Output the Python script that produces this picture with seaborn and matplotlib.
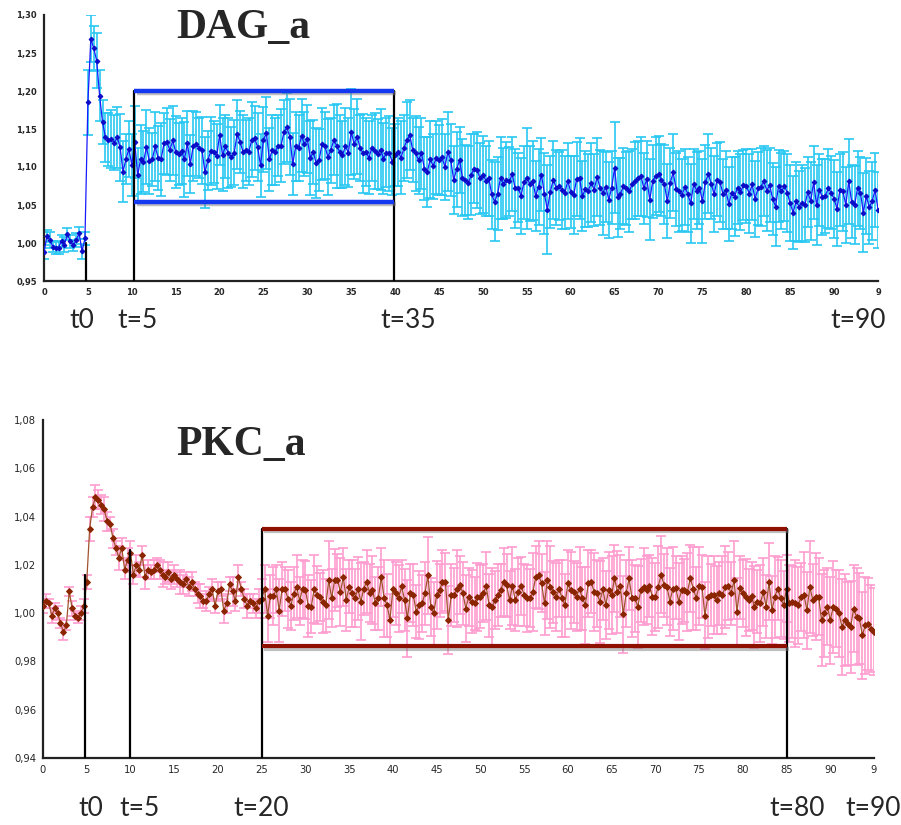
import numpy as np
import matplotlib
matplotlib.use("Agg")
import matplotlib.pyplot as plt
import matplotlib.patheffects as pe
from matplotlib.ticker import FuncFormatter
import seaborn as sns

# sampling: 3 frames per time unit, 0 .. 95
FRAMES_PER_UNIT = 3

# DAG_a mean ratio, one row per 5 time units
DAG_MEAN = [
    0.988, 1.009, 1.004, 0.995, 0.993, 0.994, 1.003, 0.998, 1.012, 1.002, 0.997, 1.004, 1.013, 0.989, 1.006,
    1.185, 1.269, 1.256, 1.240, 1.194, 1.159, 1.139, 1.136, 1.137, 1.132, 1.139, 1.126, 1.094, 1.110, 1.124,
    1.103, 1.133, 1.089, 1.110, 1.107, 1.126, 1.108, 1.110, 1.127, 1.112, 1.110, 1.131, 1.133, 1.122, 1.135,
    1.120, 1.117, 1.121, 1.110, 1.131, 1.104, 1.128, 1.130, 1.125, 1.122, 1.093, 1.109, 1.121, 1.120, 1.114,
    1.142, 1.116, 1.127, 1.118, 1.113, 1.119, 1.143, 1.133, 1.120, 1.122, 1.120, 1.136, 1.138, 1.126, 1.102,
    1.136, 1.145, 1.110, 1.122, 1.120, 1.128, 1.128, 1.146, 1.152, 1.140, 1.104, 1.127, 1.125, 1.141, 1.130,
    1.137, 1.112, 1.120, 1.105, 1.109, 1.130, 1.128, 1.113, 1.122, 1.135, 1.128, 1.120, 1.116, 1.127, 1.119,
    1.146, 1.130, 1.140, 1.125, 1.118, 1.120, 1.112, 1.125, 1.121, 1.117, 1.123, 1.111, 1.119, 1.118, 1.107,
    1.116, 1.120, 1.112, 1.125, 1.135, 1.142, 1.122, 1.118, 1.109, 1.118, 1.098, 1.094, 1.110, 1.101, 1.112,
    1.109, 1.113, 1.100, 1.120, 1.109, 1.083, 1.097, 1.109, 1.086, 1.083, 1.079, 1.090, 1.098, 1.096, 1.085,
    1.090, 1.082, 1.085, 1.064, 1.054, 1.065, 1.085, 1.078, 1.083, 1.081, 1.091, 1.072, 1.073, 1.062, 1.080,
    1.085, 1.078, 1.082, 1.062, 1.074, 1.090, 1.065, 1.044, 1.067, 1.083, 1.073, 1.075, 1.070, 1.066, 1.082,
    1.067, 1.063, 1.084, 1.085, 1.062, 1.071, 1.069, 1.079, 1.070, 1.087, 1.073, 1.066, 1.074, 1.057, 1.073,
    1.099, 1.060, 1.065, 1.075, 1.072, 1.068, 1.078, 1.082, 1.085, 1.088, 1.072, 1.084, 1.057, 1.081, 1.088,
    1.091, 1.083, 1.077, 1.055, 1.079, 1.093, 1.071, 1.068, 1.063, 1.074, 1.064, 1.052, 1.078, 1.069, 1.073,
    1.055, 1.080, 1.091, 1.078, 1.064, 1.083, 1.080, 1.065, 1.070, 1.051, 1.066, 1.061, 1.073, 1.067, 1.076,
    1.075, 1.065, 1.077, 1.058, 1.072, 1.074, 1.081, 1.069, 1.076, 1.058, 1.048, 1.075, 1.068, 1.075, 1.066,
    1.052, 1.040, 1.055, 1.048, 1.053, 1.050, 1.067, 1.055, 1.080, 1.050, 1.070, 1.060, 1.062, 1.072, 1.066,
    1.058, 1.045, 1.070, 1.068, 1.050, 1.081, 1.054, 1.050, 1.072, 1.066, 1.040, 1.062, 1.047, 1.055, 1.070,
    1.044,
]

DAG_ERR = [
    .009, .008, .010, .007, .008, .009, .008, .010, .008, .009, .007, .009, .008, .010, .009,
    .043, .031, .030, .036, .034, .029, .032, .035, .038, .036, .040, .044, .040, .033, .037,
    .041, .047, .036, .045, .040, .049, .043, .035, .046, .042, .048, .040, .044, .041, .045,
    .047, .041, .044, .049, .043, .038, .046, .042, .040, .044, .047, .039, .045, .041, .043,
    .040, .048, .042, .046, .039, .043, .045, .041, .048, .040, .044, .049, .042, .045, .041,
    .043, .047, .041, .046, .044, .040, .048, .042, .045, .050, .041, .046, .043, .048, .042,
    .045, .049, .042, .046, .041, .047, .044, .050, .043, .046, .055, .048, .044, .051, .045,
    .057, .046, .049, .044, .052, .045, .048, .043, .050, .046, .053, .047, .045, .049, .044,
    .041, .045, .048, .043, .050, .046, .042, .049, .044, .047, .041, .046, .051, .043, .048,
    .046, .050, .044, .052, .047, .045, .049, .043, .051, .046, .048, .053, .045, .050, .047,
    .051, .046, .049, .045, .052, .048, .054, .047, .050, .045, .049, .052, .046, .050, .048,
    .066, .049, .052, .046, .050, .048, .053, .058, .047, .051, .049, .045, .052, .048, .050,
    .047, .051, .049, .053, .046, .050, .048, .052, .047, .051, .049, .055, .046, .050, .048,
    .060, .052, .047, .050, .048, .053, .046, .051, .049, .052, .047, .050, .053, .048, .051,
    .050, .047, .052, .049, .046, .051, .048, .053, .047, .050, .049, .052, .046, .051, .048,
    .055, .049, .052, .047, .050, .048, .053, .046, .051, .049, .047, .052, .048, .050, .046,
    .049, .052, .047, .050, .048, .051, .046, .053, .049, .047, .052, .048, .050, .046, .051,
    .050, .048, .052, .047, .050, .049, .046, .051, .048, .053, .047, .050, .049, .052, .048,
    .051, .049, .047, .052, .050, .056, .048, .051, .049, .047, .052, .050, .048, .051, .049,
    .050,
]

# PKC_a mean ratio, one row per 5 time units
PKC_MEAN = [
    1.003, 1.005, 1.004, 0.999, 1.002, 1.000, 0.996, 0.992, 0.995, 1.009, 1.002, 0.999, 0.998, 1.000, 1.003,
    1.013, 1.035, 1.044, 1.048, 1.047, 1.045, 1.043, 1.038, 1.037, 1.031, 1.027, 1.023, 1.027, 1.018, 1.022,
    1.025, 1.016, 1.020, 1.018, 1.024, 1.015, 1.018, 1.017, 1.018, 1.020, 1.018, 1.016, 1.015, 1.017, 1.014,
    1.016, 1.014, 1.013, 1.012, 1.014, 1.011, 1.013, 1.010, 1.008, 1.007, 1.005, 1.005, 1.008, 1.010, 1.003,
    1.009, 1.010, 1.001, 1.004, 1.012, 1.009, 1.005, 1.015, 1.010, 1.006, 1.003, 1.005, 1.004, 1.002, 1.005,
    1.006, 1.010, 0.999, 1.007, 1.007, 1.010, 1.001, 1.010, 1.010, 1.006, 1.003, 1.008, 1.011, 1.005, 1.010,
    1.0095, 1.003, 1.0026, 1.010, 1.0075, 1.0068, 1.0047, 1.0033, 1.0137, 1.0061, 1.0137, 1.0137, 1.0088, 1.015, 1.0054,
    1.011, 1.0082, 1.0061, 1.0102, 1.0047, 1.0102, 1.013, 1.0082, 1.0095, 1.004, 1.0061, 1.015, 1.0061, 1.0033, 0.9971,
    1.0102, 1.0082, 1.0061, 1.0112, 1.0054, 0.9978, 1.0082, 1.0075, 1.0006, 1.0033, 1.004, 1.0082, 1.0157, 1.0026, 0.9999,
    1.0075, 1.0095, 1.013, 1.013, 0.9971, 1.0075, 1.0075, 1.0102, 1.0116, 1.0082, 1.0019, 1.0068, 1.0047, 1.004, 1.0068,
    1.0068, 1.0082, 1.0112, 1.0033, 1.0026, 1.0054, 1.0075, 1.0095, 1.013, 1.0116, 1.0054, 1.0112, 1.0054, 1.0088, 1.0112,
    1.0075, 1.0061, 1.0061, 1.0088, 1.015, 1.0157, 1.0123, 1.004, 1.0137, 1.011, 1.0088, 1.0068, 1.0102, 1.0061, 1.0033,
    1.0123, 1.0095, 1.0088, 1.0068, 1.0102, 1.0061, 1.0033, 1.0123, 1.013, 1.0088, 1.0082, 1.0047, 1.010, 1.0033, 1.0095,
    1.0075, 1.0144, 1.0088, 1.0112, 0.9995, 1.0082, 1.0144, 1.0061, 1.0061, 1.0026, 1.0095, 1.011, 1.0095, 1.0112, 1.0068,
    1.0068, 1.011, 1.016, 1.0116, 1.011, 1.0047, 1.0102, 1.0106, 1.0047, 1.0095, 1.0095, 1.0088, 1.0144, 1.0102, 1.0061,
    1.0112, 1.011, 0.999, 1.0068, 1.0075, 1.0075, 1.0054, 1.0082, 1.0075, 1.011, 1.0112, 1.0082, 1.0137, 1.0006, 1.0105,
    1.0082, 1.0065, 1.0054, 1.0071, 1.0026, 1.0047, 1.004, 1.0088, 1.0026, 1.013, 1.0012, 1.0068, 1.0102, 1.0061, 1.0033,
    1.0102, 1.004, 1.0047, 1.004, 1.0033, 1.0068, 1.0075, 1.0012, 1.0109, 1.0054, 1.0068, 1.0068, 0.9971, 0.9999, 1.0026,
    0.9971, 1.0026, 1.0019, 0.9999, 0.9943, 0.9971, 0.9957, 0.9943, 1.0019, 0.9985, 0.9978, 0.9909, 0.9950, 0.9955, 0.9936,
    0.9923,
]

PKC_ERR = [
    .003, .003, .002, .003, .002, .003, .002, .003, .002, .002, .003, .002, .002, .003, .003,
    .003, .005, .004, .005, .004, .004, .005, .004, .003, .004, .003, .005, .004, .004, .005,
    .005, .004, .004, .003, .004, .005, .004, .003, .004, .003, .004, .005, .003, .004, .004,
    .004, .003, .005, .004, .003, .004, .004, .003, .004, .005, .003, .004, .003, .004, .003,
    .004, .003, .005, .004, .003, .006, .004, .005, .003, .004, .005, .003, .004, .004, .005,
    .008, .010, .011, .009, .012, .010, .013, .011, .009, .012, .010, .011, .013, .010, .012,
    .012, .013, .011, .014, .012, .010, .013, .011, .016, .012, .013, .011, .014, .012, .013,
    .011, .014, .012, .013, .016, .011, .013, .012, .014, .011, .013, .012, .016, .013, .011,
    .012, .013, .014, .011, .013, .016, .012, .013, .011, .014, .012, .013, .016, .012, .013,
    .014, .011, .013, .012, .014, .013, .011, .016, .012, .013, .014, .012, .013, .011, .014,
    .013, .012, .014, .013, .016, .012, .013, .011, .014, .013, .012, .016, .013, .014, .012,
    .013, .014, .012, .016, .013, .014, .012, .013, .016, .017, .013, .014, .012, .016, .013,
    .014, .016, .013, .014, .017, .013, .016, .014, .013, .016, .014, .017, .013, .014, .016,
    .016, .014, .017, .013, .016, .014, .013, .016, .014, .017, .013, .016, .014, .013, .016,
    .014, .017, .016, .013, .016, .014, .017, .013, .016, .014, .013, .016, .014, .017, .013,
    .016, .013, .014, .017, .013, .016, .014, .013, .016, .017, .014, .013, .016, .014, .013,
    .014, .016, .013, .014, .017, .013, .016, .014, .013, .016, .014, .017, .013, .016, .014,
    .014, .016, .015, .018, .016, .014, .018, .016, .019, .015, .018, .016, .019, .018, .016,
    .018, .019, .016, .018, .020, .019, .017, .019, .018, .020, .019, .018, .020, .019, .018,
    .018,
]

X_TICKS = list(range(0, 96, 5))
X_TICK_LABELS = [str(v) for v in range(0, 91, 5)] + ["9"]
DAG_Y_TICKS = [0.95, 1.00, 1.05, 1.10, 1.15, 1.20, 1.25, 1.30]
PKC_Y_TICKS = [0.94, 0.96, 0.98, 1.00, 1.02, 1.04, 1.06, 1.08]

DAG_TIME_LABELS = ["t0", "t=5", "t=35", "t=90"]
PKC_TIME_LABELS = ["t0", "t=5", "t=20", "t=80", "t=90"]

W, H = 901, 825


def comma(v, pos):
    return f"{v:.2f}".replace(".", ",")


def draw_panel(ax, mean, err, line_c, mark_c, err_c, msize):
    t = np.arange(len(mean)) / FRAMES_PER_UNIT
    ax.errorbar(t, mean, yerr=err, fmt="none", ecolor=err_c,
                elinewidth=1.2, capsize=3.5, capthick=1.2, zorder=1)
    sns.lineplot(x=t, y=mean, ax=ax, color=line_c, linewidth=0.9,
                 marker="D", markersize=msize, markerfacecolor=mark_c,
                 markeredgecolor=mark_c, sort=False, errorbar=None, zorder=3)
    ax.set_xlim(0, 95)
    ax.set_xticks(X_TICKS)
    ax.set_xticklabels(X_TICK_LABELS)
    ax.yaxis.set_major_formatter(FuncFormatter(comma))
    ax.set_xlabel("")
    ax.set_ylabel("")
    sns.despine(ax=ax)
    for s in ("left", "bottom"):
        ax.spines[s].set_color("#222222")
        ax.spines[s].set_linewidth(1.6)
    ax.tick_params(axis="both", direction="out", length=3, width=1,
                   color="#222222", pad=2)


sns.set_style("white")
fig = plt.figure(figsize=(W / 100, H / 100), dpi=100)

shadow = [pe.SimpleLineShadow(offset=(1.5, -1.5), shadow_color="gray", alpha=0.5), pe.Normal()]

# ---- DAG_a ----
ax1 = fig.add_axes([44 / W, 1 - 281 / H, 834 / W, 266 / H])
draw_panel(ax1, DAG_MEAN, DAG_ERR, "#1a1aff", "#0b0bc8", "#29c8f2", 2.4)
ax1.set_ylim(0.95, 1.30)
ax1.set_yticks(DAG_Y_TICKS)
for lab in ax1.get_xticklabels() + ax1.get_yticklabels():
    lab.set_fontsize(6)
    lab.set_fontweight("bold")
ax1.plot([4.8, 4.8], [0.95, 1.0], color="black", lw=1.6, zorder=5)
ax1.plot([10.3, 10.3], [0.95, 1.20], color="black", lw=1.6, zorder=5)
ax1.plot([39.9, 39.9], [0.95, 1.20], color="black", lw=1.6, zorder=5)
for yy in (1.054, 1.200):
    ax1.plot([10.3, 39.9], [yy, yy], color="#1438f0", lw=3.2, zorder=6,
             path_effects=shadow, solid_capstyle="butt")

# ---- PKC_a ----
ax2 = fig.add_axes([43 / W, 1 - 758 / H, 831 / W, 338 / H])
draw_panel(ax2, PKC_MEAN, PKC_ERR, "#a0522d", "#8b2500", "#ff9ccf", 3.0)
ax2.set_ylim(0.94, 1.08)
ax2.set_yticks(PKC_Y_TICKS)
for lab in ax2.get_xticklabels() + ax2.get_yticklabels():
    lab.set_fontsize(8)
    lab.set_family(["Liberation Sans Narrow", "DejaVu Sans Condensed", "DejaVu Sans"])
    lab.set_fontstretch("condensed")
ax2.plot([4.8, 4.8], [0.94, 1.0158], color="black", lw=1.6, zorder=5)
ax2.plot([10.0, 10.0], [0.94, 1.0262], color="black", lw=1.6, zorder=5)
ax2.plot([25.05, 25.05], [0.94, 1.035], color="black", lw=1.6, zorder=5)
ax2.plot([85.0, 85.0], [0.94, 1.035], color="black", lw=1.6, zorder=5)
for yy in (0.9862, 1.035):
    ax2.plot([25.05, 85.0], [yy, yy], color="#8f0f00", lw=3.0, zorder=6,
             path_effects=shadow, solid_capstyle="butt")

# titles
fig.text(243 / W, 1 - 28 / H, "DAG_a", ha="center", va="center",
         fontsize=30, fontweight="bold", family="Liberation Serif")
fig.text(241 / W, 1 - 445 / H, "PKC_a", ha="center", va="center",
         fontsize=30, fontweight="bold", family="Liberation Serif")

# time annotations
for lab, px in zip(DAG_TIME_LABELS, [82, 138, 408, 858]):
    fig.text(px / W, 1 - 320 / H, lab, ha="center", va="center",
             fontsize=19, family="Lato")
for lab, px in zip(PKC_TIME_LABELS, [91, 140, 261, 797, 873]):
    fig.text(px / W, 1 - 808 / H, lab, ha="center", va="center",
             fontsize=19, family="Lato")

fig.savefig("out.png", dpi=100)
